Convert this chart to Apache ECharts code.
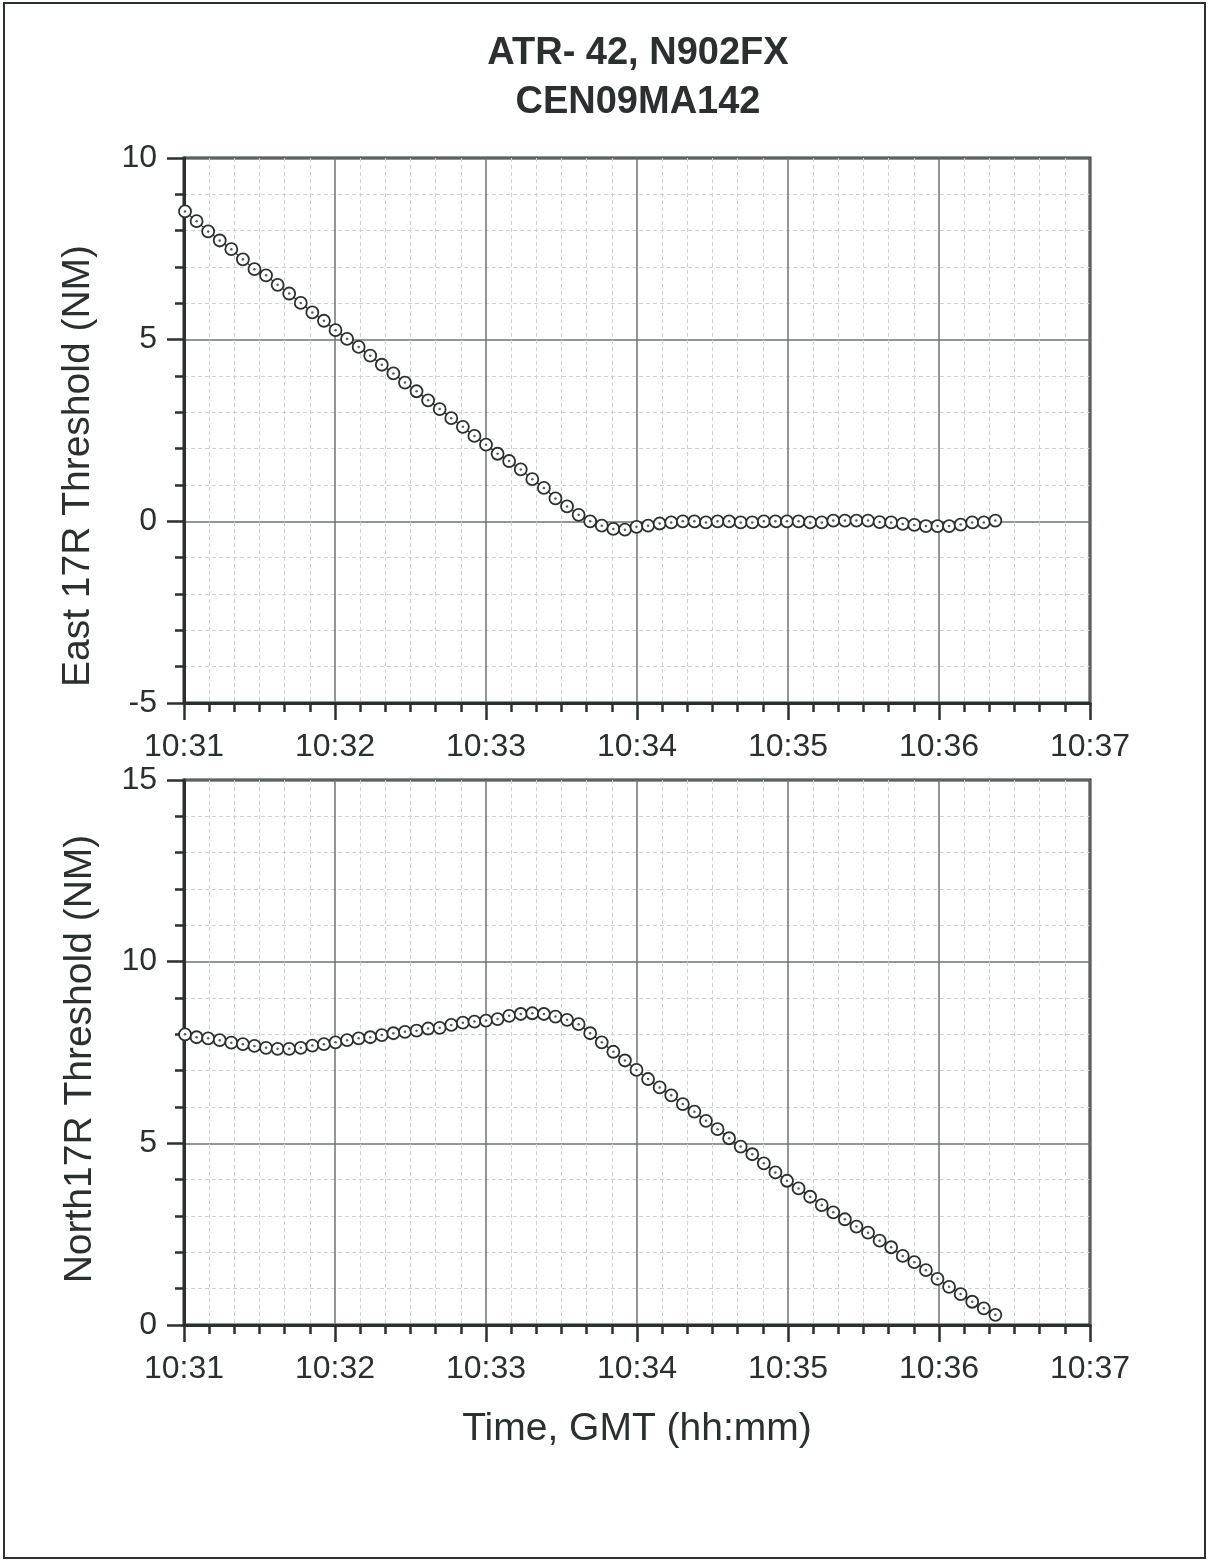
<!DOCTYPE html>
<html lang="en">
<head>
  <meta charset="UTF-8">
  <title>ATR-42 N902FX</title>
  <style>
    html, body {
      height: 100%;
      width: 100%;
      margin: 0;
      padding: 0;
      background: #fff;
    }
  </style>
  <script src="https://cdn.jsdelivr.net/npm/echarts@6.0.0/dist/echarts.min.js"></script>
</head>
<body>
<div id="main" style="width: 1210px; height: 1562px;"></div>

<script>
  // seconds after 10:31:00 of each radar return
  var timeSec = [
    0.4, 5.0, 9.6, 14.2, 18.8, 23.4, 28.0, 32.6, 37.2, 41.8, 46.4, 51.0, 55.6, 60.2, 64.8, 69.4,
    74.0, 78.6, 83.2, 87.8, 92.4, 97.0, 101.6, 106.2, 110.8, 115.4, 120.0, 124.6, 129.2, 133.8,
    138.4, 143.0, 147.6, 152.2, 156.8, 161.4, 166.0, 170.6, 175.2, 179.8, 184.4, 189.0, 193.6,
    198.2, 202.8, 207.4, 212.0, 216.6, 221.2, 225.8, 230.4, 235.0, 239.6, 244.2, 248.8, 253.4,
    258.0, 262.6, 267.2, 271.8, 276.4, 281.0, 285.6, 290.2, 294.8, 299.4, 304.0, 308.6, 313.2,
    317.8, 322.4
  ];

  // East of 17R threshold (NM)
  var eastNM = [
    8.53, 8.26, 7.98, 7.73, 7.49, 7.21, 6.94, 6.77, 6.51, 6.27, 6.01, 5.75, 5.52, 5.26, 5.02, 4.80,
    4.56, 4.31, 4.07, 3.82, 3.58, 3.33, 3.09, 2.84, 2.60, 2.35, 2.11,
    1.86, 1.66, 1.43, 1.16, 0.92, 0.63, 0.41, 0.18, 0.00, -0.12, -0.21, -0.23, -0.15, -0.12,
    -0.06, -0.03, 0.00, 0.00, -0.03, 0.00, 0.00, -0.03, -0.03, 0.00, 0.00, 0.00, 0.00, -0.03,
    -0.03, 0.02, 0.02, 0.02, 0.02, -0.02, -0.03, -0.07, -0.10, -0.13, -0.13, -0.13, -0.09,
    -0.03, -0.03, 0.02
  ];

  // North of 17R threshold (NM)
  var northNM = [
    8.00, 7.92, 7.89, 7.84, 7.77, 7.73, 7.68, 7.63, 7.60, 7.60, 7.63, 7.69, 7.73, 7.78, 7.84,
    7.89, 7.92, 7.98, 8.03, 8.07, 8.10, 8.16, 8.18, 8.26, 8.32, 8.35, 8.38, 8.42, 8.51, 8.56,
    8.58, 8.56, 8.49, 8.40, 8.28, 8.03,
    7.78, 7.52, 7.28, 7.02, 6.77, 6.54, 6.32,
    6.08, 5.87, 5.62, 5.39, 5.14, 4.91, 4.70, 4.45, 4.20, 3.97, 3.76, 3.53, 3.30, 3.10, 2.91,
    2.71, 2.54, 2.32, 2.14, 1.90, 1.73, 1.51, 1.27, 1.05, 0.85, 0.64, 0.46, 0.28
  ];

  var timeLabels = ['10:31', '10:32', '10:33', '10:34', '10:35', '10:36', '10:37'];

  var FONT = '"Liberation Sans", Arial, sans-serif';
  var INK = '#2b2f2f';

  function pairs(ys) {
    return timeSec.map(function (t, i) { return [t, ys[i]]; });
  }

  function xAxisFor(gridIndex, withName) {
    var ax = {
      type: 'value',
      gridIndex: gridIndex,
      min: 0,
      max: 360,
      interval: 60,
      axisLine: { show: true, onZero: false, lineStyle: { color: INK, width: 3 } },
      axisTick: { show: true, inside: false, length: 17, lineStyle: { color: INK, width: 2.5 } },
      minorTick: { show: true, splitNumber: 6, length: 9, lineStyle: { color: INK, width: 2.5 } },
      axisLabel: {
        margin: 28,
        fontSize: 32,
        fontFamily: FONT,
        color: INK,
        formatter: function (v) { return timeLabels[Math.round(v / 60)]; }
      },
      splitLine: { show: true, lineStyle: { color: '#6f7373', width: 1.5 } },
      minorSplitLine: { show: true, lineStyle: { color: '#cfd2d2', width: 1, type: [4, 3] } }
    };
    if (withName) {
      ax.name = 'Time, GMT (hh:mm)';
      ax.nameLocation = 'middle';
      ax.nameGap = 85;
      ax.nameTextStyle = { fontSize: 39, fontFamily: FONT, color: INK };
    }
    return ax;
  }

  function yAxisFor(gridIndex, min, max) {
    return {
      type: 'value',
      gridIndex: gridIndex,
      min: min,
      max: max,
      interval: 5,
      axisLine: { show: true, onZero: false, lineStyle: { color: INK, width: 3 } },
      axisTick: { show: true, inside: false, length: 17, lineStyle: { color: INK, width: 2.5 } },
      minorTick: { show: true, splitNumber: 5, length: 9, lineStyle: { color: INK, width: 2.5 } },
      axisLabel: { margin: 27, fontSize: 32, fontFamily: FONT, color: INK },
      splitLine: { show: true, lineStyle: { color: '#6f7373', width: 1.5 } },
      minorSplitLine: { show: true, lineStyle: { color: '#cfd2d2', width: 1, type: [4, 3] } }
    };
  }

  function trackSeries(idx, ys) {
    return [
      {
        type: 'line',
        xAxisIndex: idx,
        yAxisIndex: idx,
        data: pairs(ys),
        symbol: 'circle',
        symbolSize: 12,
        showAllSymbol: true,
        animation: false,
        lineStyle: { color: INK, width: 1.2 },
        itemStyle: { color: '#fff', borderColor: INK, borderWidth: 1.8 },
        z: 3
      },
      {
        // centre dot of each marker
        type: 'scatter',
        xAxisIndex: idx,
        yAxisIndex: idx,
        data: pairs(ys),
        symbol: 'circle',
        symbolSize: 2.5,
        silent: true,
        animation: false,
        itemStyle: { color: INK },
        z: 4
      }
    ];
  }

  function labelText(text, x, y, font, rotated) {
    return {
      type: 'text',
      x: x,
      y: y,
      rotation: rotated ? Math.PI / 2 : 0,
      style: {
        text: text,
        font: font,
        fill: INK,
        textAlign: 'center',
        textVerticalAlign: 'middle'
      }
    };
  }

  var chart = echarts.init(document.getElementById('main'));

  var option = {
    backgroundColor: '#fff',
    animation: false,
    grid: [
      { left: 184, top: 158, width: 906, height: 545, show: true, borderColor: INK, borderWidth: 3 },
      { left: 184, top: 780, width: 906, height: 545, show: true, borderColor: INK, borderWidth: 3 }
    ],
    xAxis: [xAxisFor(0, false), xAxisFor(1, true)],
    yAxis: [yAxisFor(0, -5, 10), yAxisFor(1, 0, 15)],
    graphic: [
      {
        type: 'rect',
        shape: { x: 4, y: 3, width: 1201, height: 1555 },
        style: { fill: 'none', stroke: INK, lineWidth: 2 },
        silent: true
      },
      labelText('ATR- 42, N902FX', 638, 54, 'bold 38px ' + FONT, false),
      labelText('CEN09MA142', 638, 103, 'bold 38px ' + FONT, false),
      labelText('East 17R Threshold (NM)', 78, 466, '39px ' + FONT, true),
      labelText('North17R Threshold (NM)', 80, 1059, '39px ' + FONT, true)
    ],
    series: trackSeries(0, eastNM).concat(trackSeries(1, northNM))
  };

  chart.setOption(option);
</script>
</body>
</html>
